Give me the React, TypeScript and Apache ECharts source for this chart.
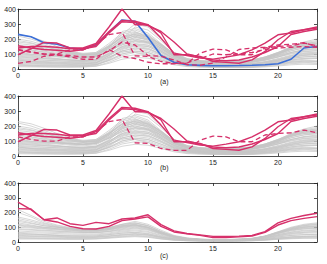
import React, { useEffect, useRef } from "react";
import * as echarts from "echarts";

const hours = [0, 1, 2, 3, 4, 5, 6, 7, 8, 9, 10, 11, 12, 13, 14, 15, 16, 17, 18, 19, 20, 21, 22, 23];
const yTicks = [0, 100, 200, 300, 400];
const panelLabels = ["(a)", "(b)", "(c)"];

// background (gray) profiles for panels a and b
const grayAB: number[][] = [
  [60, 50, 45, 40, 35, 35, 40, 80, 120, 110, 90, 60, 40, 30, 25, 20, 20, 22, 25, 30, 40, 55, 65, 70],
  [120, 110, 100, 90, 80, 75, 85, 150, 210, 230, 200, 140, 80, 50, 40, 35, 35, 40, 45, 60, 80, 110, 130, 140],
  [30, 25, 22, 20, 18, 18, 25, 60, 100, 120, 110, 80, 50, 30, 20, 15, 12, 12, 15, 20, 30, 40, 45, 40],
  [180, 170, 150, 130, 110, 100, 110, 170, 240, 260, 230, 160, 90, 60, 50, 45, 45, 50, 55, 70, 100, 140, 170, 180],
  [90, 85, 80, 70, 60, 55, 60, 100, 150, 170, 160, 120, 70, 45, 35, 30, 30, 32, 35, 45, 60, 80, 95, 100],
  [150, 140, 120, 100, 90, 80, 90, 140, 190, 200, 180, 130, 80, 55, 45, 40, 40, 45, 50, 65, 90, 120, 140, 150],
  [45, 40, 38, 35, 30, 28, 35, 70, 130, 150, 140, 100, 55, 35, 25, 20, 20, 22, 25, 35, 50, 70, 80, 85],
  [220, 200, 170, 140, 110, 95, 100, 160, 230, 250, 210, 150, 90, 60, 50, 45, 50, 55, 60, 80, 110, 150, 180, 200],
  [70, 65, 60, 55, 50, 48, 55, 90, 140, 160, 150, 110, 60, 40, 30, 25, 25, 28, 30, 40, 55, 75, 90, 95],
  [110, 100, 95, 90, 85, 80, 85, 120, 170, 190, 180, 140, 90, 60, 50, 45, 45, 50, 55, 70, 90, 110, 125, 130],
  [20, 18, 16, 15, 14, 15, 20, 45, 80, 95, 90, 60, 35, 20, 15, 12, 10, 10, 12, 18, 25, 35, 40, 38],
  [130, 125, 115, 105, 95, 90, 95, 130, 180, 210, 200, 150, 95, 65, 55, 50, 48, 52, 60, 80, 110, 140, 160, 165],
  [230, 215, 185, 150, 120, 100, 105, 150, 200, 220, 190, 140, 85, 55, 45, 40, 40, 45, 50, 65, 95, 130, 160, 175],
  [55, 50, 48, 45, 42, 40, 45, 80, 110, 130, 120, 90, 55, 35, 28, 22, 20, 20, 22, 30, 45, 60, 70, 75],
  [100, 95, 90, 85, 80, 78, 85, 130, 200, 280, 260, 190, 110, 70, 55, 48, 45, 48, 55, 75, 100, 130, 150, 155],
  [80, 75, 70, 65, 60, 58, 65, 110, 170, 200, 185, 140, 85, 55, 45, 40, 38, 40, 45, 60, 80, 100, 115, 120],
  [160, 150, 135, 120, 105, 95, 100, 150, 210, 230, 210, 160, 100, 65, 55, 50, 50, 55, 60, 80, 110, 145, 165, 170],
  [35, 32, 30, 28, 26, 25, 30, 55, 90, 110, 100, 70, 40, 25, 18, 14, 12, 13, 15, 22, 32, 45, 52, 50],
  [140, 130, 110, 95, 85, 80, 90, 140, 230, 300, 280, 200, 110, 70, 55, 50, 48, 50, 58, 75, 105, 135, 155, 160],
  [65, 60, 58, 55, 52, 50, 58, 95, 150, 180, 170, 125, 75, 45, 35, 30, 28, 30, 34, 45, 62, 85, 100, 105],
  [200, 185, 160, 135, 115, 105, 110, 155, 215, 235, 215, 165, 100, 65, 52, 46, 46, 50, 56, 75, 105, 145, 175, 190],
  [25, 22, 20, 20, 20, 20, 28, 65, 120, 140, 130, 95, 50, 30, 22, 18, 16, 16, 18, 25, 38, 50, 58, 55],
  [95, 90, 85, 80, 72, 68, 75, 120, 180, 210, 195, 150, 90, 58, 46, 40, 40, 43, 48, 62, 85, 110, 128, 135],
  [170, 160, 140, 120, 100, 90, 95, 145, 250, 270, 240, 170, 100, 62, 50, 44, 44, 48, 55, 72, 100, 135, 160, 170],
  [50, 45, 42, 40, 38, 36, 42, 75, 120, 140, 135, 100, 60, 38, 30, 25, 24, 26, 28, 38, 52, 70, 82, 85],
  [40, 38, 35, 33, 32, 32, 40, 90, 160, 190, 175, 120, 65, 38, 28, 22, 20, 21, 24, 32, 45, 62, 72, 72],
  [75, 72, 68, 62, 58, 55, 62, 105, 190, 240, 220, 160, 90, 52, 40, 34, 32, 34, 38, 50, 70, 92, 108, 112],
  [15, 14, 13, 12, 12, 13, 18, 38, 65, 78, 72, 50, 28, 16, 12, 10, 9, 9, 10, 14, 20, 28, 32, 30],
  [125, 118, 105, 92, 82, 76, 82, 125, 185, 225, 215, 165, 100, 62, 48, 42, 41, 44, 50, 66, 92, 122, 142, 148],
  [85, 80, 74, 68, 62, 60, 66, 100, 145, 165, 158, 118, 72, 46, 36, 31, 30, 32, 36, 48, 66, 88, 104, 108],
  [190, 175, 150, 128, 108, 96, 102, 150, 215, 245, 225, 165, 98, 62, 50, 44, 44, 48, 54, 72, 102, 140, 168, 182],
  [58, 54, 50, 47, 44, 43, 50, 88, 135, 155, 150, 112, 68, 42, 33, 27, 26, 28, 31, 42, 58, 78, 92, 96],
  [105, 98, 92, 86, 80, 76, 82, 118, 162, 185, 176, 132, 82, 54, 44, 38, 37, 40, 45, 58, 80, 104, 118, 124],
  [28, 26, 25, 24, 23, 23, 30, 58, 100, 118, 110, 78, 44, 26, 20, 16, 15, 15, 17, 24, 34, 46, 52, 50],
  [145, 138, 125, 112, 100, 92, 98, 138, 196, 218, 205, 155, 96, 62, 50, 45, 44, 48, 54, 72, 100, 132, 150, 156],
];

// background (gray) profiles for panel c
const grayC: number[][] = [
  [60, 55, 50, 45, 40, 38, 40, 50, 60, 65, 55, 35, 22, 15, 12, 10, 10, 12, 15, 22, 35, 45, 50, 52],
  [150, 130, 110, 100, 90, 80, 80, 90, 110, 120, 100, 60, 35, 22, 16, 14, 14, 16, 20, 35, 60, 80, 90, 95],
  [30, 28, 26, 25, 24, 24, 26, 32, 40, 45, 40, 25, 15, 10, 8, 7, 7, 8, 10, 15, 22, 28, 32, 33],
  [200, 170, 130, 110, 95, 85, 85, 95, 120, 130, 110, 70, 40, 25, 18, 15, 15, 18, 24, 40, 70, 100, 120, 130],
  [90, 85, 80, 75, 70, 65, 65, 72, 85, 95, 85, 55, 32, 20, 15, 12, 12, 14, 18, 30, 50, 65, 75, 80],
  [120, 110, 100, 95, 90, 85, 88, 100, 120, 140, 120, 80, 45, 28, 20, 17, 17, 20, 25, 40, 65, 90, 105, 110],
  [45, 42, 40, 38, 35, 33, 35, 42, 52, 58, 50, 32, 20, 12, 10, 8, 8, 10, 12, 18, 28, 36, 40, 42],
  [170, 150, 125, 105, 90, 80, 78, 85, 100, 110, 95, 60, 35, 22, 17, 14, 14, 17, 22, 38, 65, 90, 110, 120],
  [75, 70, 68, 65, 62, 60, 62, 70, 80, 90, 80, 52, 30, 18, 14, 11, 11, 13, 17, 28, 45, 60, 68, 72],
  [20, 20, 20, 19, 18, 18, 20, 26, 32, 36, 32, 20, 12, 8, 6, 5, 5, 6, 8, 12, 18, 22, 25, 25],
  [130, 115, 100, 90, 82, 75, 75, 85, 105, 115, 100, 65, 38, 24, 18, 15, 15, 18, 22, 38, 62, 85, 98, 105],
  [55, 52, 50, 48, 46, 45, 48, 56, 68, 75, 66, 42, 25, 16, 12, 10, 10, 12, 15, 25, 40, 52, 60, 62],
  [100, 95, 88, 82, 76, 70, 70, 80, 95, 105, 92, 60, 35, 22, 16, 13, 13, 15, 20, 34, 56, 75, 88, 92],
  [220, 180, 140, 115, 98, 88, 86, 92, 110, 118, 100, 62, 36, 23, 17, 14, 14, 17, 22, 38, 66, 95, 115, 125],
  [35, 34, 33, 32, 30, 29, 31, 38, 46, 52, 46, 30, 18, 11, 9, 7, 7, 9, 11, 16, 25, 32, 36, 38],
  [140, 125, 110, 100, 92, 86, 86, 96, 118, 130, 112, 72, 40, 25, 19, 16, 16, 19, 24, 40, 68, 95, 112, 118],
  [65, 62, 60, 57, 54, 52, 54, 62, 74, 82, 72, 46, 28, 17, 13, 11, 11, 13, 16, 27, 43, 57, 65, 68],
  [110, 100, 92, 86, 80, 74, 75, 84, 100, 112, 98, 64, 37, 23, 17, 14, 14, 16, 21, 36, 58, 80, 94, 100],
  [40, 38, 36, 35, 33, 32, 34, 40, 48, 54, 48, 31, 19, 12, 9, 8, 8, 9, 11, 17, 26, 34, 38, 40],
  [85, 80, 76, 72, 68, 64, 65, 74, 90, 100, 88, 57, 33, 21, 15, 12, 12, 14, 18, 31, 50, 68, 80, 84],
  [160, 140, 118, 102, 90, 82, 82, 90, 106, 116, 98, 62, 36, 23, 17, 14, 14, 17, 22, 37, 62, 86, 102, 110],
  [25, 24, 23, 22, 21, 21, 23, 29, 36, 40, 36, 22, 13, 9, 7, 6, 6, 7, 9, 13, 20, 25, 28, 29],
  [115, 105, 96, 90, 84, 78, 80, 92, 112, 126, 108, 70, 40, 25, 18, 15, 15, 18, 23, 38, 62, 86, 100, 106],
  [50, 48, 46, 44, 42, 40, 42, 50, 60, 66, 58, 37, 22, 14, 11, 9, 9, 11, 13, 21, 34, 44, 50, 52],
];

// highlighted profiles
const blueA = [231, 215, 175, 165, 140, 131, 160, 245, 327, 318, 210, 90, 45, 28, 24, 22, 22, 23, 25, 28, 35, 65, 140, 150];
const red1 = [95, 135, 177, 173, 140, 140, 170, 280, 400, 295, 295, 240, 95, 95, 84, 50, 44, 38, 61, 117, 195, 250, 262, 280];
const red2 = [155, 140, 130, 125, 118, 128, 162, 250, 324, 318, 295, 206, 106, 90, 73, 66, 79, 95, 128, 173, 228, 240, 262, 273];
const red3 = [140, 150, 150, 145, 135, 135, 150, 240, 315, 310, 290, 250, 180, 100, 80, 60, 55, 60, 80, 110, 150, 230, 250, 265];
const dash1 = [128, 110, 99, 99, 128, 128, 162, 229, 244, 88, 84, 50, 38, 38, 106, 133, 128, 95, 95, 140, 150, 155, 173, 155];
const dash2 = [38, 50, 85, 95, 80, 65, 65, 130, 85, 70, 45, 35, 35, 40, 70, 100, 95, 100, 110, 130, 140, 145, 150, 145];
const dash3 = [130, 115, 100, 95, 90, 80, 80, 120, 180, 160, 90, 85, 60, 30, 25, 40, 80, 130, 140, 145, 160, 165, 175, 150];
const redC1 = [271, 219, 151, 163, 124, 113, 133, 124, 156, 163, 185, 118, 75, 58, 48, 38, 37, 40, 45, 70, 130, 160, 180, 195];
const redC2 = [226, 224, 151, 136, 106, 90, 88, 106, 145, 156, 170, 106, 68, 55, 45, 30, 30, 35, 40, 65, 115, 145, 160, 172];

const RED = "#d6306a";
const BLUE = "#3b6fd8";
const GRAY = "#c6c6c6";
const AXIS = "#222";

const pts = (v: number[]) => v.map((y, i) => [hours[i], y]);

export default function App() {
  const ref = useRef<HTMLDivElement>(null);
  useEffect(() => {
    if (!ref.current) return;
    const chart = echarts.init(ref.current, undefined, { renderer: "svg" });
    const tops = [9, 96, 183];
    const heights = [60, 60, 59];
    const grids = tops.map((t, i) => ({ left: 18, right: 10, top: t, height: heights[i], containLabel: false }));
    const lineStyle = { color: AXIS, width: 0.8 };
    const xAxis: any[] = [];
    const yAxis: any[] = [];
    grids.forEach((_, g) => {
      xAxis.push({
        gridIndex: g, type: "value", min: hours[0], max: hours[hours.length - 1], interval: 5,
        axisLine: { show: true, onZero: false, lineStyle },
        axisTick: { show: true, inside: true, length: 3, lineStyle },
        axisLabel: { show: true, fontSize: 7, color: AXIS, margin: 3, showMaxLabel: false, fontFamily: "Liberation Sans" },
        splitLine: { show: false },
      });
      xAxis.push({
        gridIndex: g, type: "value", position: "top", min: hours[0], max: hours[hours.length - 1], interval: 5,
        axisLine: { show: true, onZero: false, lineStyle },
        axisTick: { show: true, inside: true, length: 3, lineStyle },
        axisLabel: { show: false }, splitLine: { show: false },
      });
      yAxis.push({
        gridIndex: g, type: "value", min: yTicks[0], max: yTicks[yTicks.length - 1], interval: 100,
        axisLine: { show: true, onZero: false, lineStyle },
        axisTick: { show: true, inside: true, length: 3, lineStyle },
        axisLabel: { show: true, fontSize: 7, color: AXIS, margin: 2, fontFamily: "Liberation Sans" },
        splitLine: { show: false },
      });
      yAxis.push({
        gridIndex: g, type: "value", position: "right", min: yTicks[0], max: yTicks[yTicks.length - 1], interval: 100,
        axisLine: { show: true, onZero: false, lineStyle },
        axisTick: { show: true, inside: true, length: 3, lineStyle },
        axisLabel: { show: false }, splitLine: { show: false },
      });
    });

    const series: any[] = [];
    const add = (g: number, data: number[], color: string, width: number, dashed = false, z = 2) =>
      series.push({
        type: "line", xAxisIndex: g * 2, yAxisIndex: g * 2, data: pts(data), showSymbol: false, symbol: "none",
        lineStyle: { color, width, type: dashed ? [5, 3] : "solid" }, z, silent: true,
      });
    grayAB.forEach((d) => add(0, d, GRAY, 0.7, false, 1));
    grayAB.forEach((d) => add(1, d, GRAY, 0.7, false, 1));
    grayC.forEach((d) => add(2, d, GRAY, 0.7, false, 1));

    add(0, blueA, BLUE, 1.6, false, 3);
    [red1, red2, red3].forEach((d) => add(0, d, RED, 1.4, false, 4));
    [dash1, dash2, dash3].forEach((d) => add(0, d, RED, 1.3, true, 4));
    [red1, red2, red3].forEach((d) => add(1, d, RED, 1.4, false, 4));
    add(1, dash1, RED, 1.3, true, 4);
    [redC1, redC2].forEach((d) => add(2, d, RED, 1.4, false, 4));

    const labelY = [82, 168, 256];
    const graphic = panelLabels.map((t, i) => ({
      type: "text", left: 160, top: labelY[i] - 4,
      style: { text: t, fontSize: 7, fill: AXIS, fontFamily: "Liberation Sans" },
    }));

    chart.setOption({
      animation: false,
      grid: grids,
      xAxis, yAxis, series, graphic,
    });
    return () => chart.dispose();
  }, []);
  return <div ref={ref} style={{ position: "fixed", left: 0, top: 0, width: 327, height: 264, background: "#fff" }} />;
}
